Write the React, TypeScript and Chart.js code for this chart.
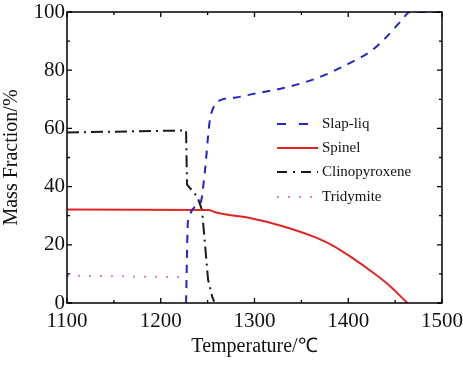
import React, { useEffect, useRef } from "react";
import { Chart, registerables } from "chart.js";

Chart.register(...registerables);

const slapLiqX = [1227, 1229, 1242, 1247, 1252, 1256, 1262, 1280, 1295, 1331, 1367, 1402, 1424, 1438, 1456, 1466, 1500];
const slapLiqY = [0, 28, 34, 45, 62, 67, 69.5, 70.6, 71.6, 73.9, 77.3, 82.5, 86.5, 90.5, 96.8, 100, 100];

const spinelX = [1100, 1251, 1258, 1270, 1295, 1331, 1367, 1385, 1402, 1427, 1445, 1463];
const spinelY = [32.1, 32, 31.2, 30.4, 29.2, 26.3, 22.3, 19.5, 16, 10.3, 5.7, 0];

const clinoX = [1100, 1227, 1228, 1239, 1244, 1250.5, 1255, 1257];
const clinoY = [58.6, 59.3, 40.7, 36.5, 32, 8, 2, 0.5];

const tridX = [1100, 1222];
const tridY = [9.4, 8.9];

const seriesNames = ["Slap-liq", "Spinel", "Clinopyroxene", "Tridymite"];

const xTicksMajor = [1100, 1200, 1300, 1400, 1500];
const yTicksMajor = [0, 20, 40, 60, 80, 100];

const toPts = (xs: number[], ys: number[]) => xs.map((x, i) => ({ x, y: ys[i] }));

const SERIF = "'Liberation Serif', 'Times New Roman', serif";

const framePlugin = {
  id: "frameTicks",
  afterDatasetsDraw(chart: any) {
    const { ctx, chartArea: a, scales } = chart;
    const xs = scales.x;
    const ys = scales.y;
    ctx.save();
    ctx.strokeStyle = "#000";
    ctx.lineWidth = 1.5;
    ctx.strokeRect(a.left, a.top, a.right - a.left, a.bottom - a.top);
    ctx.lineWidth = 1.3;
    for (let v = 1100; v <= 1500; v += 50) {
      const px = xs.getPixelForValue(v);
      const len = v % 100 === 0 ? 5 : 3;
      ctx.beginPath();
      ctx.moveTo(px, a.bottom);
      ctx.lineTo(px, a.bottom - len);
      ctx.moveTo(px, a.top);
      ctx.lineTo(px, a.top + len);
      ctx.stroke();
    }
    for (let v = 0; v <= 100; v += 10) {
      const py = ys.getPixelForValue(v);
      const len = v % 20 === 0 ? 5 : 3;
      ctx.beginPath();
      ctx.moveTo(a.left, py);
      ctx.lineTo(a.left + len, py);
      ctx.moveTo(a.right, py);
      ctx.lineTo(a.right - len, py);
      ctx.stroke();
    }
    const rows = [124, 148, 172, 197];
    chart.data.datasets.forEach((ds: any, i: number) => {
      const y = rows[i];
      ctx.beginPath();
      ctx.strokeStyle = ds.borderColor;
      ctx.lineWidth = ds.borderWidth;
      ctx.setLineDash(ds.legendDash || ds.borderDash || []);
      ctx.moveTo(277, y);
      ctx.lineTo(318, y);
      ctx.stroke();
      ctx.setLineDash([]);
      ctx.fillStyle = "#111";
      ctx.font = `15px ${SERIF}`;
      ctx.textBaseline = "middle";
      ctx.textAlign = "left";
      ctx.fillText(ds.label, 322, y);
    });
    ctx.restore();
  },
};

export default function App() {
  const ref = useRef<HTMLCanvasElement>(null);
  useEffect(() => {
    document.body.style.margin = "0";
    const canvas = ref.current!;
    const chart = new Chart(canvas, {
      type: "line",
      data: {
        datasets: [
          {
            label: seriesNames[0],
            data: toPts(slapLiqX, slapLiqY),
            borderColor: "#2424c8",
            borderWidth: 2,
            borderDash: [8, 7],
            legendDash: [9, 13],
            pointRadius: 0,
            cubicInterpolationMode: "monotone",
          } as any,
          {
            label: seriesNames[1],
            data: toPts(spinelX, spinelY),
            borderColor: "#e02424",
            borderWidth: 2,
            pointRadius: 0,
            cubicInterpolationMode: "monotone",
          } as any,
          {
            label: seriesNames[2],
            data: toPts(clinoX, clinoY),
            borderColor: "#1a1a1a",
            borderWidth: 2,
            borderDash: [12, 5, 2, 5],
            legendDash: [10, 6, 2, 6],
            pointRadius: 0,
            tension: 0,
          } as any,
          {
            label: seriesNames[3],
            data: toPts(tridX, tridY),
            borderColor: "#d77ad7",
            borderWidth: 2,
            borderDash: [2, 9],
            pointRadius: 0,
            tension: 0,
          },
        ],
      },
      options: {
        responsive: false,
        animation: false,
        layout: { padding: { top: 12, right: 21, left: 0, bottom: 0 } },
        plugins: { legend: { display: false }, tooltip: { enabled: false } },
        scales: {
          x: {
            type: "linear",
            min: 1100,
            max: 1500,
            grid: { display: false, drawTicks: false },
            border: { display: false },
            afterBuildTicks: (s: any) => {
              s.ticks = xTicksMajor.map((v) => ({ value: v }));
            },
            afterFit: (s: any) => {
              s.height = 62;
              s.paddingLeft = 0;
              s.paddingRight = 0;
            },
            ticks: {
              color: "#111",
              padding: 6,
              maxRotation: 0,
              font: { family: SERIF, size: 21 },
              callback: (v: any) => String(v),
            },
            title: {
              display: true,
              text: "Temperature/℃",
              color: "#111",
              padding: { top: 0, bottom: 6 },
              font: { family: SERIF, size: 20 },
            },
          },
          y: {
            type: "linear",
            min: 0,
            max: 100,
            grid: { display: false, drawTicks: false },
            border: { display: false },
            afterBuildTicks: (s: any) => {
              s.ticks = yTicksMajor.map((v) => ({ value: v }));
            },
            afterFit: (s: any) => {
              s.width = 67;
              s.paddingTop = 0;
              s.paddingBottom = 0;
            },
            ticks: {
              color: "#111",
              padding: 2,
              font: { family: SERIF, size: 21 },
              callback: (v: any) => String(v),
            },
            title: {
              display: true,
              text: "Mass Fraction/%",
              color: "#111",
              padding: { top: 0, bottom: 2 },
              font: { family: SERIF, size: 20 },
            },
          },
        },
      },
      plugins: [framePlugin],
    });
    return () => chart.destroy();
  }, []);
  return <canvas ref={ref} width={463} height={365} style={{ display: "block" }} />;
}
